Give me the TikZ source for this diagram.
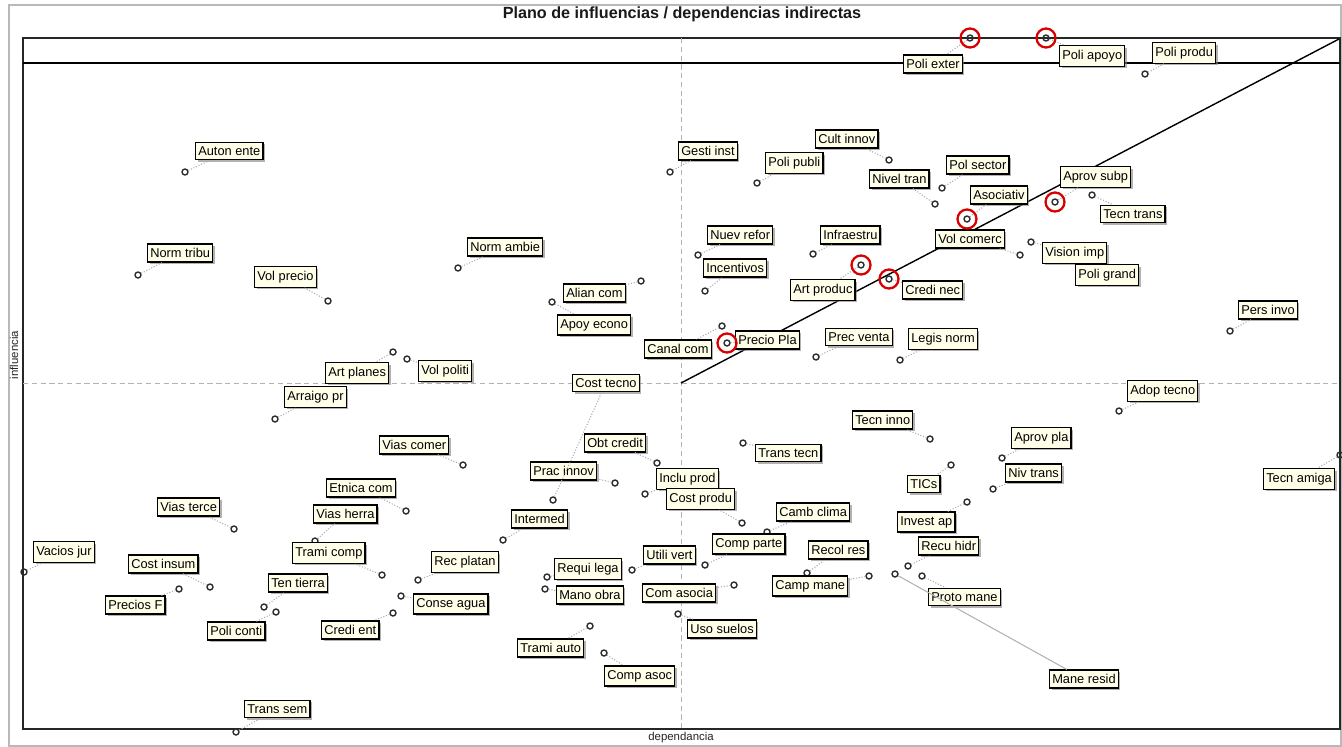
\documentclass[tikz,border=0pt]{standalone}
\usepackage{fontspec}
\setmainfont{Liberation Sans}
\usetikzlibrary{shadows}

\begin{document}
\begin{tikzpicture}[x=0.02cm,y=-0.02cm]
      \tikzstyle{etiq}=[draw=black, line width=0.7pt, fill=yellow!9, anchor=west, inner xsep=1.5pt, inner ysep=2.4pt, font=\fontsize{7.3}{8}\selectfont, drop shadow={shadow xshift=1.2pt, shadow yshift=-1.2pt, opacity=0.6}]
      \tikzstyle{punto}=[circle, draw=gray!35!black, line width=0.8pt, inner sep=0pt, minimum size=3.4pt]
      \tikzstyle{foco}=[circle, draw=red!85!black, line width=1.3pt, inner sep=0pt, minimum size=0.38cm]
      \tikzstyle{guia}=[gray!65, densely dotted, line width=0.6pt]
      \tikzstyle{eje}=[gray!60, densely dashed, line width=0.5pt]

      \useasboundingbox (0,0) rectangle (1342,747);
      \fill[white] (0,0) rectangle (1342,747);

      % marcos
      \draw[gray!55, line width=1.2pt] (9,5) rectangle (1341,746);
      \draw[gray!30!black, line width=0.9pt] (23,38) rectangle (1340,729);
      \draw[black, line width=0.7pt] (23,63) -- (1340,63);
      \node[font=\bfseries\fontsize{9.2}{11}\selectfont, text=gray!20!black] (titulo) at (682,14) {Plano de influencias / dependencias indirectas};
      \node[rotate=90, font=\fontsize{6.5}{8}\selectfont, text=gray!30!black] (infl) at (14,355) {influencia};
      \node[font=\fontsize{6.5}{8}\selectfont, text=gray!30!black] (depe) at (681,738) {dependancia};

      % ejes y diagonal
      \coordinate (o) at (681,383);
      \coordinate (tr) at (1339,39);
      \coordinate (ejeL) at (23,383);
      \coordinate (ejeR) at (1340,383);
      \coordinate (ejeT) at (681,38);
      \coordinate (ejeB) at (681,729);
      \draw[eje] (ejeL) -- (ejeR);
      \draw[eje] (ejeT) -- (ejeB);
      \draw[black, line width=0.8pt] (o) -- (tr);

      % variables
      \node[punto] (pAutonEnte) at (185,172) {};
      \node[etiq] (AutonEnte) at (195,151) {Auton ente};
      \node[punto] (pNormTribu) at (138,275) {};
      \node[etiq] (NormTribu) at (147,253) {Norm tribu};
      \node[punto] (pVolPrecio) at (328,301) {};
      \node[etiq] (VolPrecio) at (254,277) {Vol precio};
      \node[punto] (pNormAmbie) at (458,268) {};
      \node[etiq] (NormAmbie) at (467,247) {Norm ambie};
      \node[punto] (pGestiInst) at (670,172) {};
      \node[etiq] (GestiInst) at (678,151) {Gesti inst};
      \node[punto] (pCultInnov) at (889,160) {};
      \node[etiq] (CultInnov) at (815,139) {Cult innov};
      \node[punto] (pPoliPubli) at (757,183) {};
      \node[etiq] (PoliPubli) at (765,163) {Poli publi};
      \node[punto] (pNivelTran) at (935,204) {};
      \node[etiq] (NivelTran) at (869,179) {Nivel tran};
      \node[punto] (pPolSector) at (942,188) {};
      \node[etiq] (PolSector) at (946,165) {Pol sector};
      \node[punto] (pAsociativ) at (967,219) {};
      \node[etiq] (Asociativ) at (970,195) {Asociativ};
      \node[punto] (pAprovSubp) at (1055,202) {};
      \node[etiq] (AprovSubp) at (1060,177) {Aprov subp};
      \node[punto] (pTecnTrans) at (1092,195) {};
      \node[etiq] (TecnTrans) at (1100,214) {Tecn trans};
      \node[punto] (pPoliExter) at (970,38) {};
      \node[etiq] (PoliExter) at (903,64) {Poli exter};
      \node[punto] (pPoliApoyo) at (1046,38) {};
      \node[etiq] (PoliApoyo) at (1059,56) {Poli apoyo};
      \node[punto] (pPoliProdu) at (1145,74) {};
      \node[etiq] (PoliProdu) at (1152,53) {Poli produ};
      \node[punto] (pVolComerc) at (1020,255) {};
      \node[etiq] (VolComerc) at (935,239) {Vol comerc};
      \node[punto] (pVisionImp) at (1031,242) {};
      \node[etiq] (VisionImp) at (1042,253) {Vision imp};
      \node[etiq] (PoliGrand) at (1075,275) {Poli grand};
      \node[punto] (pNuevRefor) at (698,255) {};
      \node[etiq] (NuevRefor) at (707,235) {Nuev refor};
      \node[punto] (pIncentivos) at (705,291) {};
      \node[etiq] (Incentivos) at (703,268) {Incentivos};
      \node[punto] (pInfraestru) at (813,254) {};
      \node[etiq] (Infraestru) at (820,235) {Infraestru};
      \node[punto] (pArtProduc) at (861,265) {};
      \node[etiq] (ArtProduc) at (790,290) {Art produc};
      \node[punto] (pCrediNec) at (889,279) {};
      \node[etiq] (CrediNec) at (902,290) {Credi nec};
      \node[punto] (pAlianCom) at (641,281) {};
      \node[etiq] (AlianCom) at (563,293) {Alian com};
      \node[punto] (pApoyEcono) at (552,302) {};
      \node[etiq] (ApoyEcono) at (557,325) {Apoy econo};
      \node[punto] (pCanalCom) at (722,326) {};
      \node[etiq] (CanalCom) at (644,349) {Canal com};
      \node[punto] (pPrecioPla) at (727,343) {};
      \node[etiq] (PrecioPla) at (735,340) {Precio Pla};
      \node[punto] (pPrecVenta) at (816,357) {};
      \node[etiq] (PrecVenta) at (825,337) {Prec venta};
      \node[punto] (pLegisNorm) at (900,360) {};
      \node[etiq] (LegisNorm) at (908,339) {Legis norm};
      \node[punto] (pPersInvo) at (1230,331) {};
      \node[etiq] (PersInvo) at (1238,310) {Pers invo};
      \node[punto] (pArtPlanes) at (393,352) {};
      \node[etiq] (ArtPlanes) at (325,373) {Art planes};
      \node[punto] (pVolPoliti) at (407,359) {};
      \node[etiq] (VolPoliti) at (418,371) {Vol politi};
      \node[punto] (pArraigoPr) at (275,419) {};
      \node[etiq] (ArraigoPr) at (284,397) {Arraigo pr};
      \node[punto] (pCostTecno) at (553,500) {};
      \node[etiq] (CostTecno) at (572,383) {Cost tecno};
      \node[punto] (pViasComer) at (463,465) {};
      \node[etiq] (ViasComer) at (379,445) {Vias comer};
      \node[punto] (pObtCredit) at (657,463) {};
      \node[etiq] (ObtCredit) at (584,443) {Obt credit};
      \node[punto] (pTransTecn) at (743,443) {};
      \node[etiq] (TransTecn) at (755,453) {Trans tecn};
      \node[punto] (pTecnInno) at (930,439) {};
      \node[etiq] (TecnInno) at (852,420) {Tecn inno};
      \node[punto] (pAdopTecno) at (1119,411) {};
      \node[etiq] (AdopTecno) at (1127,391) {Adop tecno};
      \node[punto] (pAprovPla) at (1002,458) {};
      \node[etiq] (AprovPla) at (1011,438) {Aprov pla};
      \node[punto] (pNivTrans) at (993,489) {};
      \node[etiq] (NivTrans) at (1005,473) {Niv trans};
      \node[punto] (pTICs) at (951,465) {};
      \node[etiq] (TICs) at (907,484) {TICs};
      \node[punto] (pTecnAmiga) at (1340,455) {};
      \node[etiq] (TecnAmiga) at (1263,479) {Tecn amiga};
      \node[punto] (pIncluProd) at (645,494) {};
      \node[etiq] (IncluProd) at (656,479) {Inclu prod};
      \node[punto] (pCostProdu) at (742,523) {};
      \node[etiq] (CostProdu) at (666,499) {Cost produ};
      \node[punto] (pPracInnov) at (615,483) {};
      \node[etiq] (PracInnov) at (530,471) {Prac innov};
      \node[punto] (pEtnicaCom) at (406,511) {};
      \node[etiq] (EtnicaCom) at (326,488) {Etnica com};
      \node[punto] (pViasTerce) at (234,529) {};
      \node[etiq] (ViasTerce) at (157,507) {Vias terce};
      \node[punto] (pViasHerra) at (315,541) {};
      \node[etiq] (ViasHerra) at (313,514) {Vias herra};
      \node[punto] (pIntermed) at (503,540) {};
      \node[etiq] (Intermed) at (511,519) {Intermed};
      \node[punto] (pCambClima) at (767,532) {};
      \node[etiq] (CambClima) at (776,512) {Camb clima};
      \node[punto] (pInvestAp) at (967,502) {};
      \node[etiq] (InvestAp) at (897,522) {Invest ap};
      \node[punto] (pTramiComp) at (382,575) {};
      \node[etiq] (TramiComp) at (292,553) {Trami comp};
      \node[punto] (pCompParte) at (705,565) {};
      \node[etiq] (CompParte) at (712,544) {Comp parte};
      \node[punto] (pRecolRes) at (807,573) {};
      \node[etiq] (RecolRes) at (808,550) {Recol res};
      \node[punto] (pRecuHidr) at (908,566) {};
      \node[etiq] (RecuHidr) at (918,546) {Recu hidr};
      \node[punto] (pProtoMane) at (922,576) {};
      \node[etiq] (ProtoMane) at (928,597) {Proto mane};
      \node[punto] (pManeResid) at (895,574) {};
      \node[etiq] (ManeResid) at (1049,679) {Mane resid};
      \node[punto] (pCampMane) at (869,576) {};
      \node[etiq] (CampMane) at (772,586) {Camp mane};
      \node[punto] (pVaciosJur) at (24,572) {};
      \node[etiq] (VaciosJur) at (33,552) {Vacios jur};
      \node[punto] (pCostInsum) at (210,587) {};
      \node[etiq] (CostInsum) at (128,564) {Cost insum};
      \node[punto] (pPreciosF) at (179,589) {};
      \node[etiq] (PreciosF) at (105,605) {Precios F};
      \node[punto] (pTenTierra) at (264,607) {};
      \node[etiq] (TenTierra) at (268,583) {Ten tierra};
      \node[punto] (pPoliConti) at (276,612) {};
      \node[etiq] (PoliConti) at (207,631) {Poli conti};
      \node[punto] (pCrediEnt) at (393,613) {};
      \node[etiq] (CrediEnt) at (321,630) {Credi ent};
      \node[punto] (pRecPlatan) at (418,580) {};
      \node[etiq] (RecPlatan) at (431,562) {Rec platan};
      \node[punto] (pConseAgua) at (401,596) {};
      \node[etiq] (ConseAgua) at (413,604) {Conse agua};
      \node[punto] (pRequiLega) at (547,577) {};
      \node[etiq] (RequiLega) at (554,569) {Requi lega};
      \node[punto] (pManoObra) at (545,589) {};
      \node[etiq] (ManoObra) at (556,595) {Mano obra};
      \node[punto] (pUtiliVert) at (632,570) {};
      \node[etiq] (UtiliVert) at (643,555) {Utili vert};
      \node[punto] (pComAsocia) at (734,585) {};
      \node[etiq] (ComAsocia) at (642,593) {Com asocia};
      \node[punto] (pUsoSuelos) at (678,614) {};
      \node[etiq] (UsoSuelos) at (687,629) {Uso suelos};
      \node[punto] (pTramiAuto) at (590,626) {};
      \node[etiq] (TramiAuto) at (517,648) {Trami auto};
      \node[punto] (pCompAsoc) at (604,653) {};
      \node[etiq] (CompAsoc) at (604,676) {Comp asoc};
      \node[punto] (pTransSem) at (236,732) {};
      \node[etiq] (TransSem) at (244,709) {Trans sem};

      % guias
      \foreach \v in {AutonEnte,NormTribu,VolPrecio,NormAmbie,GestiInst,CultInnov,PoliPubli,NivelTran,PolSector,Asociativ,AprovSubp,TecnTrans,PoliExter,PoliApoyo,PoliProdu,VolComerc,VisionImp,NuevRefor,Incentivos,Infraestru,ArtProduc,CrediNec,AlianCom,ApoyEcono,CanalCom,PrecioPla,PrecVenta,LegisNorm,PersInvo,ArtPlanes,VolPoliti,ArraigoPr,CostTecno,ViasComer,ObtCredit,TransTecn,TecnInno,AdopTecno,AprovPla,NivTrans,TICs,TecnAmiga,IncluProd,CostProdu,PracInnov,EtnicaCom,ViasTerce,ViasHerra,Intermed,CambClima,InvestAp,TramiComp,CompParte,RecolRes,RecuHidr,ProtoMane,CampMane,VaciosJur,CostInsum,PreciosF,TenTierra,PoliConti,CrediEnt,RecPlatan,ConseAgua,RequiLega,ManoObra,UtiliVert,ComAsocia,UsoSuelos,TramiAuto,CompAsoc,TransSem}
        \draw[guia] (p\v) -- (\v);
      \draw[gray!60, line width=0.6pt] (pManeResid) -- (ManeResid);

      % puntos marcados
      \node[foco] (fPoliExter) at (pPoliExter) {};
      \node[foco] (fPoliApoyo) at (pPoliApoyo) {};
      \node[foco] (fAsociativ) at (pAsociativ) {};
      \node[foco] (fAprovSubp) at (pAprovSubp) {};
      \node[foco] (fArtProduc) at (pArtProduc) {};
      \node[foco] (fCrediNec) at (pCrediNec) {};
      \node[foco] (fPrecioPla) at (pPrecioPla) {};
\end{tikzpicture}
\end{document}
